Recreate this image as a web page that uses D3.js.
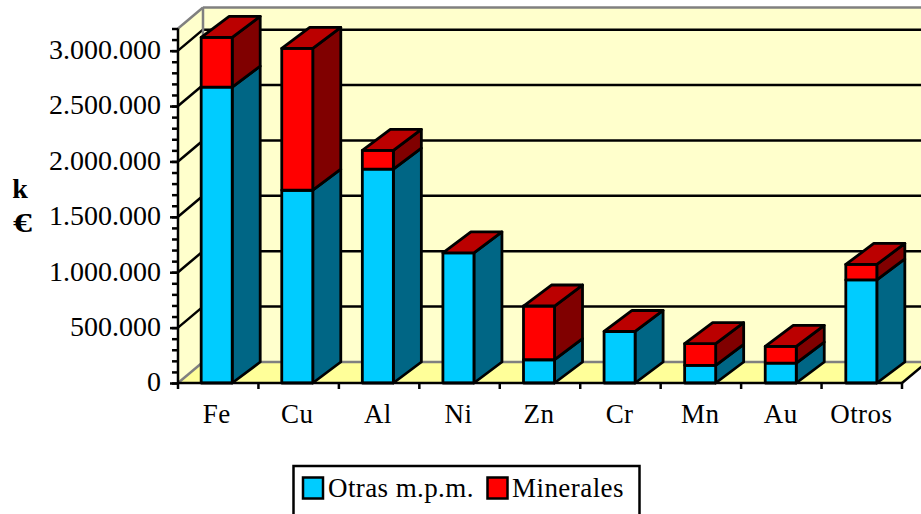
<!DOCTYPE html>
<html><head><meta charset="utf-8">
<script src="https://cdn.jsdelivr.net/npm/d3@7/dist/d3.min.js"></script>
<style>html,body{margin:0;padding:0;background:#fff;overflow:hidden}svg{display:block}text{font-family:"Liberation Serif",serif;fill:#000}</style>
</head><body><svg id="c" width="921" height="514"></svg>
<script>
const categories=["Fe","Cu","Al","Ni","Zn","Cr","Mn","Au","Otros"];
const otras=[2670000,1740000,1930000,1175000,210000,465000,160000,180000,930000];
const minerales=[450000,1280000,170000,0,485000,0,195000,150000,140000];
const seriesNames=["Otras m.p.m.","Minerales"];
const majorTicks=[0,500000,1000000,1500000,2000000,2500000,3000000];
const minorTicks=d3.range(0,3200001,100000);
const yTitle=["k","€"];

const svg=d3.select("#c");
const x0=178,x1=902,y0=383,yMax=3200000,yTop=28.5;
const dxW=25,dy=21,dxB=28;
const sw=2.8;
const x=d3.scaleBand().domain(categories).range([x0-1,x1-1]).paddingInner(0.615).paddingOuter(0.3);
const y=d3.scaleLinear().domain([0,yMax]).range([y0,yTop]);
const pts=a=>a.map(p=>p.join(",")).join(" ");
const poly=(p,f,s,w)=>svg.append("polygon").attr("points",pts(p)).attr("fill",f).attr("stroke",s||"#000").attr("stroke-width",w||sw).attr("stroke-linejoin","round");
const line=(a,b,s,w)=>svg.append("line").attr("x1",a[0]).attr("y1",a[1]).attr("x2",b[0]).attr("y2",b[1]).attr("stroke",s||"#000").attr("stroke-width",w||2.5);

// walls
poly([[x0+dxW,y(yMax)-dy],[x1+dxW,y(yMax)-dy],[x1+dxW,y0-dy],[x0+dxW,y0-dy]],"#FFFFCC","none",0);
poly([[x0,y(yMax)],[x0+dxW,y(yMax)-dy],[x0+dxW,y0-dy],[x0,y0]],"#FFFFCC","none",0);
poly([[x0,y0],[x0+dxW,y0-dy],[x1+dxW,y0-dy],[x1,y0]],"#FFFF99","none",0);
// gridlines
majorTicks.filter(v=>v>0).forEach(v=>{
  line([x0,y(v)],[x0+dxW,y(v)-dy]);
  line([x0+dxW,y(v)-dy],[x1+dxW,y(v)-dy]);
});
// wall edges
line([x0,y(yMax)],[x0+dxW,y(yMax)-dy],"#808080");
line([x0+dxW,y(yMax)-dy],[x1+dxW,y(yMax)-dy],"#808080");
line([x0+dxW,y(yMax)-dy],[x0+dxW,y0-dy],"#808080");
line([x0,y0],[x0+dxW,y0-dy],"#808080");
line([x0+dxW,y0-dy],[x1+dxW,y0-dy],"#808080");
line([x1,y0],[x1+dxW,y0-dy],"#000");

// bars
categories.forEach((c,i)=>{
  const l=x(c),r=l+x.bandwidth();
  const yb=y(otras[i]),yt=y(otras[i]+minerales[i]);
  poly([[r,y0],[r+dxB,y0-dy],[r+dxB,yb-dy],[r,yb]],"#006685");
  poly([[l,y0],[r,y0],[r,yb],[l,yb]],"#00CCFF");
  if(minerales[i]>0){
    poly([[r,yb],[r+dxB,yb-dy],[r+dxB,yt-dy],[r,yt]],"#800000");
    poly([[l,yb],[r,yb],[r,yt],[l,yt]],"#FF0000");
  }
  poly([[l,yt],[r,yt],[r+dxB,yt-dy],[l+dxB,yt-dy]],"#BB0000");
});

// axes
const fmt=d3.formatLocale({decimal:",",thousands:".",grouping:[3],currency:["","€"]}).format(",d");
const minorAxis=d3.axisLeft(y).tickValues(minorTicks).tickSize(6).tickFormat("");
const gm=svg.append("g").attr("transform",`translate(${x0},0)`).call(minorAxis);
gm.selectAll(".tick line").attr("stroke","#000").attr("stroke-width",2.5);
gm.select(".domain").attr("stroke","#000").attr("stroke-width",2.5).attr("d",`M0,${y(yMax)}V${y0}`);
const majorAxis=d3.axisLeft(y).tickValues(majorTicks).tickSize(8).tickPadding(9).tickFormat(fmt);
const gy=svg.append("g").attr("transform",`translate(${x0},0)`).call(majorAxis);
gy.select(".domain").remove();
gy.selectAll(".tick line").attr("stroke","#000").attr("stroke-width",2.5);
gy.selectAll("text").attr("font-size",28).attr("dy","0.28em");

line([x0,y0],[x1,y0]);
const xStep=(x1-x0)/categories.length;
categories.forEach((c,i)=>{line([x0+xStep*(i+1),y0],[x0+xStep*(i+1),y0+6]);});
line([x0,y0],[x0,y0+6]);
categories.forEach(c=>{
  svg.append("text").attr("x",x(c)+x.bandwidth()/2).attr("y",423).attr("text-anchor","middle").attr("font-size",27).attr("letter-spacing","0.4px").text(c);
});
// title
svg.append("text").attr("x",20).attr("y",198).attr("text-anchor","middle").attr("font-size",28).attr("font-weight","bold").text(yTitle[0]);
svg.append("text").attr("x",13).attr("y",232).attr("font-size",28).attr("font-weight","bold").attr("textLength",19).attr("lengthAdjust","spacingAndGlyphs").text(yTitle[1]);

// legend
svg.append("rect").attr("x",293.5).attr("y",466).attr("width",346).attr("height",60).attr("fill","#fff").attr("stroke","#000").attr("stroke-width",2.5);
const leg=[[303,"#00CCFF",328],[487.5,"#FF0000",512]];
seriesNames.forEach((n,i)=>{
  svg.append("rect").attr("x",leg[i][0]).attr("y",477.5).attr("width",20).attr("height",21).attr("fill",leg[i][1]).attr("stroke","#000").attr("stroke-width",2.5);
  svg.append("text").attr("x",leg[i][2]).attr("y",497).attr("font-size",27).attr("letter-spacing",i==0?"0.4px":"0.45px").text(n);
});
</script></body></html>
